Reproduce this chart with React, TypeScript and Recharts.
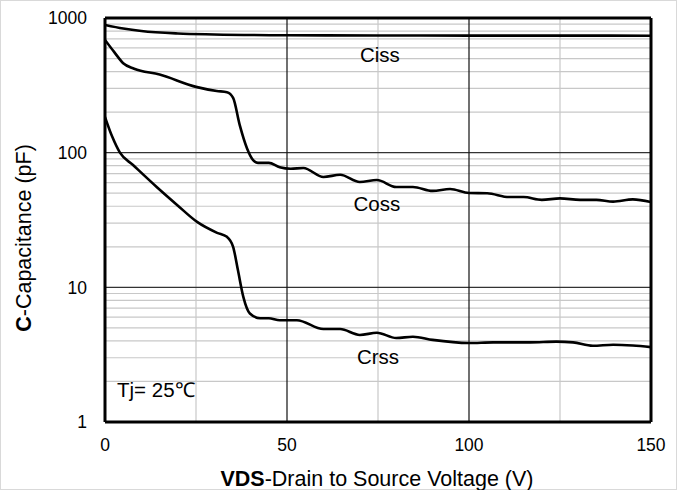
import React from "react";
import {
  Label,
  Line,
  LineChart,
  ReferenceDot,
  ReferenceLine,
  XAxis,
  YAxis,
} from "recharts";

const cissV = [0, 5, 10, 20, 30, 50, 75, 100, 125, 150];
const cissC = [887, 835, 800, 767, 755, 745, 742, 740, 740, 738];

const cossV = [
  0, 2.5, 5, 8, 15, 25, 30.7, 33.5, 35.2, 37, 39, 40.7, 42, 45, 48, 51, 54.5, 60,
  64.6, 70, 74.7, 80, 84.6, 90, 94.8, 100, 105, 111, 115, 120, 125, 130.5, 135,
  139.6, 145, 150,
];
const cossC = [
  687, 560, 462, 420, 380, 308, 287, 281, 255, 161, 108, 88, 84, 84, 78, 76, 77, 66,
  68.5, 60.5, 62.6, 55.6, 55.6, 52, 53.7, 50.2, 50, 46.8, 46.8, 44.6, 45.8, 44.6,
  44.6, 43.3, 45, 43,
];

const crssV = [
  0, 2, 4.1, 7.7, 14.2, 19.8, 25.3, 30.8, 33.5, 35.2, 36.5, 38, 39.8, 42.6, 45, 48,
  52.7, 60, 64.6, 70, 74.7, 80, 84.6, 90, 100, 106.6, 116.8, 124, 128.6, 134, 139.6,
  145, 150,
];
const crssC = [
  184, 131, 100, 81, 55.6, 40.9, 30.6, 25.4, 23.7, 20, 13.5, 8.5, 6.4, 5.9, 5.9, 5.7,
  5.7, 4.9, 4.9, 4.43, 4.6, 4.2, 4.3, 4.07, 3.86, 3.9, 3.9, 3.95, 3.9, 3.68, 3.75,
  3.7, 3.6,
];

const xTicks = [0, 50, 100, 150];
const yTicks = [1, 10, 100, 1000];
const xMajorGrid = [50, 100];
const xMinorGrid = [25, 75, 125];
const yMajorGrid = [10, 100];
const yMinorGrid = [
  2, 3, 4, 5, 6, 7, 8, 9, 20, 30, 40, 50, 60, 70, 80, 90, 200, 300, 400, 500, 600,
  700, 800, 900,
];

const curveLabels = [
  { name: "Ciss", v: 75.5, c: 531 },
  { name: "Coss", v: 74.7, c: 41.6 },
  { name: "Crss", v: 75, c: 3.04 },
];

const toPoints = (xs: number[], ys: number[]) => xs.map((v, i) => ({ v, c: ys[i] }));

const ciss = toPoints(cissV, cissC);
const coss = toPoints(cossV, cossC);
const crss = toPoints(crssV, crssC);

const font = "'Liberation Sans', Arial, sans-serif";

function YTitle() {
  return (
    <text
      x={31}
      y={238}
      transform="rotate(-90 31 238)"
      textAnchor="middle"
      fontFamily={font}
      fontSize={21.5}
      fill="#000"
    >
      <tspan fontWeight="bold">C</tspan>
      <tspan>-Capacitance (pF)</tspan>
    </text>
  );
}

function XTitle() {
  return (
    <text x={377} y={486} textAnchor="middle" fontFamily={font} fontSize={21.5} fill="#000">
      <tspan fontWeight="bold">VDS</tspan>
      <tspan>-Drain to Source Voltage (V)</tspan>
    </text>
  );
}

export default function App() {
  return (
    <div style={{ width: 677, height: 490, boxSizing: "border-box", border: "1px solid #d9d9d9", position: "relative" }}>
      <style>{`body{margin:0}`}</style>
      <div style={{ position: "absolute", left: -1, top: -1 }}>
        <LineChart width={677} height={490} margin={{ top: 18, right: 26, bottom: 38, left: 0 }}>
          <XAxis
            type="number"
            dataKey="v"
            domain={[0, 150]}
            ticks={xTicks}
            allowDataOverflow
            height={30}
            axisLine={false}
            tickLine={false}
            tick={{ fontFamily: font, fontSize: 17.5, fill: "#000" }}
            tickMargin={11}
          >
            <Label content={<XTitle />} />
          </XAxis>
          <YAxis
            type="number"
            scale="log"
            domain={[1, 1000]}
            ticks={yTicks}
            allowDataOverflow
            width={105}
            axisLine={false}
            tickLine={false}
            tick={{ fontFamily: font, fontSize: 17.5, fill: "#000" }}
            tickMargin={12}
          >
            <Label content={<YTitle />} />
          </YAxis>

          {yMinorGrid.map((y) => (
            <ReferenceLine key={`ym${y}`} y={y} stroke="#c8c8c8" strokeWidth={1.2} />
          ))}
          {xMinorGrid.map((x) => (
            <ReferenceLine key={`xm${x}`} x={x} stroke="#c8c8c8" strokeWidth={1.2} />
          ))}
          {yMajorGrid.map((y) => (
            <ReferenceLine key={`yM${y}`} y={y} stroke="#333" strokeWidth={1.2} />
          ))}
          {xMajorGrid.map((x) => (
            <ReferenceLine key={`xM${x}`} x={x} stroke="#111" strokeWidth={1.2} />
          ))}
          <ReferenceLine y={1} stroke="#000" strokeWidth={3} />
          <ReferenceLine y={1000} stroke="#000" strokeWidth={3} />
          <ReferenceLine x={0} stroke="#000" strokeWidth={3} />
          <ReferenceLine x={150} stroke="#000" strokeWidth={3} />

          <Line data={ciss} dataKey="c" type="monotone" stroke="#000" strokeWidth={2.6} dot={false} isAnimationActive={false} />
          <Line data={coss} dataKey="c" type="monotone" stroke="#000" strokeWidth={2.6} dot={false} isAnimationActive={false} />
          <Line data={crss} dataKey="c" type="monotone" stroke="#000" strokeWidth={2.6} dot={false} isAnimationActive={false} />

          {curveLabels.map((l) => (
            <ReferenceDot key={l.name} x={l.v} y={l.c} r={0} fill="none" stroke="none">
              <Label value={l.name} position="center" fontFamily={font} fontSize={20.5} fill="#000" />
            </ReferenceDot>
          ))}
          <ReferenceDot x={3.3} y={1.73} r={0} fill="none" stroke="none">
            <Label value="Tj= 25℃" position="right" offset={0} fontFamily={font} fontSize={20.5} fill="#000" />
          </ReferenceDot>
        </LineChart>
      </div>
    </div>
  );
}
